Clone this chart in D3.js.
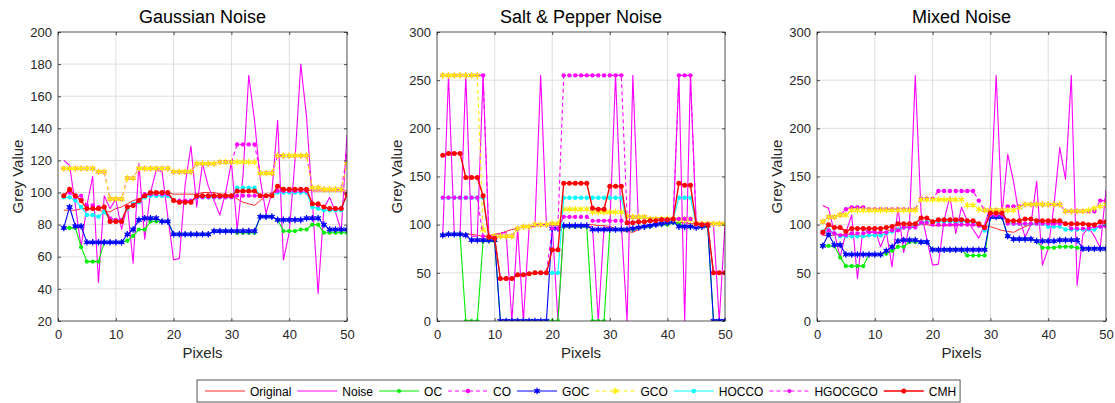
<!DOCTYPE html>
<html>
<head>
<meta charset="utf-8">
<script src="https://cdn.jsdelivr.net/npm/d3@7"></script>
<style>
  body { margin: 0; background: #fff; }
  svg { font-family: "Liberation Sans", Arial, Helvetica, sans-serif; }
</style>
</head>
<body>
<div id="chart"></div>
<script>
// ---------------- data ----------------
const pixels = d3.range(1, 51);
const xTicks = [0, 10, 20, 30, 40, 50];
const gaussTicks = [20, 40, 60, 80, 100, 120, 140, 160, 180, 200];
const greyTicks = [0, 50, 100, 150, 200, 250, 300];

const seriesNames = ['Original', 'Noise', 'OC', 'CO', 'GOC', 'GCO', 'HOCCO', 'HGOCGCO', 'CMH'];

// same original signal in every panel
const original = [89,89,89,90,90,90,89,88,88,90, 91,93,95,96,98,99,99,100,100,99,
  99,99,99,99,100,100,100,99,99,98, 96,94,93,92,95,98,100,101,101,102,
  102,102,102,101,101,101,101,101,101,101];

// Gaussian noise
const gaussNoise = [120,117,92,66,92,110,44,98,90,96, 77,92,56,118,71,100,114,113,85,58,
  59,105,129,91,118,104,95,86,100,119, 77,110,173,145,108,87,100,145,58,75,
  120,180,147,95,37,90,97,88,76,136];
const gaussOC = [78,78,78,66,57,57,57,69,69,69, 69,70,73,77,77,82,82,82,82,74,
  74,74,74,74,74,74,76,76,76,76, 75,75,75,75,85,85,85,83,76,76,
  76,77,77,80,80,75,75,75,75,75];
const gaussCO = [115,115,115,115,115,115,113,113,96,96, 96,109,109,115,115,115,115,115,115,113,
  113,113,113,118,118,118,118,119,119,119, 130,130,130,130,112,112,112,123,123,123,
  123,123,123,103,103,102,102,102,102,123];
const gaussGOC = [78,91,79,79,69,69,69,69,69,69, 69,74,77,83,84,84,84,82,82,74,
  74,74,74,74,74,74,76,76,76,76, 76,76,76,76,85,85,85,83,83,83,
  83,83,84,84,84,80,77,77,77,77];
const gaussGCO = [115,115,115,115,115,115,113,113,96,96, 96,109,109,115,115,115,115,115,115,113,
  113,113,113,118,118,118,118,119,119,119, 119,119,119,119,112,112,112,123,123,123,
  123,123,123,103,103,102,102,102,102,118];
const gaussHOCCO = [97,97,95,91,86,86,85,88,83,83, 83,90,93,94,97,98,98,98,98,95,
  94,94,94,97,97,97,97,97,97,97, 103,103,103,103,98,98,98,100,100,100,
  100,100,100,91,90,89,89,89,89,99];
const gaussHGOCGCO = [98,100,97,98,92,92,91,91,84,83, 83,91,92,95,99,99,99,99,99,95,
  95,95,95,97,97,97,97,97,97,97, 98,98,98,98,98,98,98,101,101,101,
  101,101,101,93,92,91,90,90,90,99];
const gaussCMH = [98,102,98,95,90,90,90,91,82,82, 82,91,92,95,98,100,100,100,100,95,
  94,94,94,98,98,98,98,98,98,98, 101,101,101,101,98,98,98,104,102,102,
  102,102,102,93,93,91,90,90,90,99];

// Salt & pepper noise
const spNoise = [89,255,90,90,255,88,88,255,88,89, 91,92,0,96,0,98,98,255,99,100,
  0,98,98,98,98,98,98,0,97,97, 255,100,0,255,97,99,100,100,101,101,
  102,255,0,255,101,101,100,100,0,100];
const spOC = [89,90,90,90,0,0,0,83,83,83, 0,0,0,0,0,0,0,0,0,0,
  0,98,98,98,98,98,0,0,0,95, 95,95,95,95,97,98,98,100,100,100,
  102,101,98,98,98,98,98,0,0,0];
const spCO = [255,255,255,255,255,255,255,255,88,88, 88,88,88,96,98,98,100,100,100,101,
  101,255,255,255,255,255,255,255,255,255, 255,255,109,108,108,108,106,106,106,106,
  106,255,255,255,101,101,101,101,101,101];
const spGOC = [89,90,90,90,89,84,84,84,84,84, 0,0,0,0,0,0,0,0,0,96,
  96,99,99,99,99,99,95,95,95,95, 95,95,95,96,97,98,99,100,101,102,
  103,98,98,98,97,98,99,0,0,0];
const spGCO = [255,255,255,255,255,255,255,95,88,88, 88,88,88,96,98,98,100,100,100,101,
  101,116,116,116,116,116,113,113,113,113, 113,113,109,108,108,108,106,106,106,106,
  106,105,105,105,101,101,101,101,101,101];
const spHOCCO = [128,128,128,128,128,128,128,128,87,86, 44,44,44,48,48,49,50,50,50,50,
  50,128,128,128,128,128,128,128,128,128, 128,128,102,102,103,103,104,104,105,105,
  106,128,128,128,100,100,100,50,50,50];
const spHGOCGCO = [128,128,128,128,128,128,128,88,88,86, 44,44,44,48,48,49,50,50,50,96,
  96,108,108,108,108,108,104,104,104,104, 104,104,102,102,103,103,104,104,105,105,
  106,106,106,106,100,100,100,50,50,50];
const spCMH = [172,174,174,174,149,149,149,130,87,86, 44,44,44,48,48,49,50,50,50,74,
  74,143,143,143,143,143,117,116,116,140, 140,140,102,102,103,103,104,104,105,105,
  106,143,141,141,101,100,100,50,50,50];

// Mixed noise
const mixNoise = [120,117,92,66,92,110,44,98,90,96, 77,92,56,118,71,100,255,113,85,58,
  59,105,129,91,118,104,95,86,100,119, 255,110,173,145,108,87,100,145,58,75,
  120,180,147,255,37,90,97,88,76,136];
const mixOC = [78,78,78,66,57,57,57,57,69,69, 69,70,73,77,77,82,82,82,82,74,
  74,74,74,74,74,68,68,68,68,108, 108,108,88,85,85,85,85,83,76,76,
  76,77,77,77,76,75,75,75,75,75];
const mixCO = [103,108,108,110,116,118,118,118,116,116, 116,116,116,116,116,116,116,127,127,127,
  135,135,135,135,135,135,135,125,115,115, 115,115,119,119,119,121,121,121,121,121,
  121,121,114,114,114,114,114,114,125,125];
const mixGOC = [78,90,79,79,69,69,69,69,69,69, 69,73,77,83,84,84,84,82,82,74,
  74,74,74,74,74,74,74,74,74,108, 108,108,88,85,85,85,85,83,83,83,
  83,84,84,84,84,75,75,75,75,75];
const mixGCO = [103,108,108,110,110,115,115,115,115,115, 115,115,115,115,115,115,115,126,126,126,
  126,126,126,126,126,120,120,116,115,115, 115,115,115,115,118,121,121,121,121,121,
  121,121,114,114,114,114,115,117,119,121];
const mixHOCCO = [93,95,91,88,88,88,88,88,89,89, 89,91,93,95,97,97,99,102,103,103,
  103,103,103,103,103,103,102,101,94,112, 112,112,103,101,101,101,101,101,101,98,
  98,98,95,95,95,95,95,95,98,99];
const mixHGOCGCO = [91,94,91,89,89,91,91,91,92,92, 92,92,94,94,97,97,97,102,102,100,
  100,100,100,100,100,100,100,99,96,110, 110,110,101,101,101,101,101,101,101,101,
  101,101,101,96,96,96,96,98,98,98];
const mixCMH = [92,100,97,97,93,96,96,96,96,96, 96,97,98,101,101,101,101,107,107,103,
  105,105,105,105,105,104,104,101,97,112, 112,112,104,104,104,106,106,104,104,104,
  104,104,101,101,101,101,100,100,103,103];

// ---------------- styles ----------------
// marker: 'dot' filled circle, 'star' asterisk (+ small centre dot)
const styles = {
  Original: { color: '#ff2a2a', width: 1, dash: null, marker: null, r: 0 },
  Noise:    { color: '#ff00ff', width: 1.1, dash: null, marker: null, r: 0 },
  OC:       { color: '#00f000', width: 1.1, dash: null, marker: 'dot', r: 2.1 },
  CO:       { color: '#ff00ff', width: 1.1, dash: '4,3', marker: 'dot', r: 2.2 },
  GOC:      { color: '#0000ff', width: 1.1, dash: null, marker: 'star', r: 2.0 },
  GCO:      { color: '#ffee00', width: 1.1, dash: '4,3', marker: 'star', r: 1.4 },
  HOCCO:    { color: '#00ffff', width: 1.1, dash: null, marker: 'dot', r: 2.2 },
  HGOCGCO:  { color: '#ff00ff', width: 1.1, dash: '4,3', marker: 'dot', r: 2.1 },
  CMH:      { color: '#ff0000', width: 1.4, dash: null, marker: 'dot', r: 2.5 }
};

const panels = [
  { title: 'Gaussian Noise', left: 58, right: 347, yDomain: [20, 200], yTicks: gaussTicks,
    series: [original, gaussNoise, gaussOC, gaussCO, gaussGOC, gaussGCO, gaussHOCCO, gaussHGOCGCO, gaussCMH] },
  { title: 'Salt & Pepper Noise', left: 437, right: 725, yDomain: [0, 300], yTicks: greyTicks,
    series: [original, spNoise, spOC, spCO, spGOC, spGCO, spHOCCO, spHGOCGCO, spCMH] },
  { title: 'Mixed Noise', left: 817, right: 1106, yDomain: [0, 300], yTicks: greyTicks,
    series: [original, mixNoise, mixOC, mixCO, mixGOC, mixGCO, mixHOCCO, mixHGOCGCO, mixCMH] }
];

const W = 1115, H = 403;
const plotTop = 32, plotBottom = 321;
const axisColor = '#262626';
const star = d3.symbol().type(d3.symbolAsterisk).size(30);

function addMarkers(sel, data, st, cx, cy) {
  if (st.marker === 'dot') {
    sel.selectAll('circle').data(data).join('circle')
      .attr('cx', cx).attr('cy', cy)
      .attr('r', st.r)
      .attr('fill', st.color);
  } else if (st.marker === 'star') {
    sel.selectAll('path').data(data).join('path')
      .attr('transform', (d, i) => 'translate(' + cx(d, i) + ',' + cy(d, i) + ')')
      .attr('d', star())
      .attr('fill', 'none')
      .attr('stroke', st.color)
      .attr('stroke-width', 1.2);
    sel.selectAll('circle').data(data).join('circle')
      .attr('cx', cx).attr('cy', cy)
      .attr('r', st.r)
      .attr('fill', st.color);
  }
}

const svg = d3.select('#chart').append('svg')
  .attr('width', W).attr('height', H);

panels.forEach(function (p, pi) {
  const g = svg.append('g');
  const clipId = 'clip' + pi;
  svg.append('clipPath').attr('id', clipId)
    .append('rect')
    .attr('x', p.left).attr('y', plotTop)
    .attr('width', p.right - p.left).attr('height', plotBottom - plotTop);

  const x = d3.scaleLinear().domain([0, 50]).range([p.left, p.right]);
  const y = d3.scaleLinear().domain(p.yDomain).range([plotBottom, plotTop]);

  // grid
  g.append('g').selectAll('line').data(xTicks.slice(1, -1)).join('line')
    .attr('x1', d => x(d)).attr('x2', d => x(d))
    .attr('y1', plotTop).attr('y2', plotBottom)
    .attr('stroke', '#dedede').attr('stroke-width', 1);
  g.append('g').selectAll('line').data(p.yTicks.slice(1, -1)).join('line')
    .attr('x1', p.left).attr('x2', p.right)
    .attr('y1', d => y(d)).attr('y2', d => y(d))
    .attr('stroke', '#dedede').attr('stroke-width', 1);

  // series
  const plot = g.append('g').attr('clip-path', 'url(#' + clipId + ')');
  p.series.forEach(function (values, si) {
    const st = styles[seriesNames[si]];
    const line = d3.line()
      .x((d, i) => x(pixels[i]))
      .y(d => y(d));
    plot.append('path')
      .datum(values)
      .attr('fill', 'none')
      .attr('stroke', st.color)
      .attr('stroke-width', st.width)
      .attr('stroke-dasharray', st.dash)
      .attr('stroke-linejoin', 'round')
      .attr('d', line);
    addMarkers(plot.append('g'), values, st, (d, i) => x(pixels[i]), d => y(d));
  });

  // axes (ticks inside, box on)
  g.append('g')
    .attr('transform', 'translate(0,' + plotBottom + ')')
    .call(d3.axisBottom(x).tickValues(xTicks).tickSize(-3).tickPadding(9));
  g.append('g')
    .attr('transform', 'translate(' + p.left + ',0)')
    .call(d3.axisLeft(y).tickValues(p.yTicks).tickSize(-3).tickPadding(6));
  g.append('g')
    .attr('transform', 'translate(0,' + plotTop + ')')
    .call(d3.axisTop(x).tickValues(xTicks).tickSize(-3).tickFormat(''));
  g.append('g')
    .attr('transform', 'translate(' + p.right + ',0)')
    .call(d3.axisRight(y).tickValues(p.yTicks).tickSize(-3).tickFormat(''));

  g.selectAll('.domain').remove();
  g.selectAll('.tick line').attr('stroke', axisColor).attr('stroke-width', 0.8);
  g.selectAll('.tick text')
    .attr('fill', axisColor)
    .style('font-size', '13px')
    .style('font-family', '"Liberation Sans", Arial, sans-serif');

  g.append('rect')
    .attr('x', p.left).attr('y', plotTop)
    .attr('width', p.right - p.left).attr('height', plotBottom - plotTop)
    .attr('fill', 'none').attr('stroke', axisColor).attr('stroke-width', 0.8);

  // labels
  const cx = (p.left + p.right) / 2;
  g.append('text')
    .attr('x', cx).attr('y', 23)
    .attr('text-anchor', 'middle')
    .style('font-size', '18px')
    .attr('fill', '#000')
    .text(p.title);
  g.append('text')
    .attr('x', cx).attr('y', 358)
    .attr('text-anchor', 'middle')
    .style('font-size', '15px')
    .attr('fill', axisColor)
    .text('Pixels');
  g.append('text')
    .attr('transform', 'translate(' + (p.left - 35) + ',' + ((plotTop + plotBottom) / 2) + ') rotate(-90)')
    .attr('text-anchor', 'middle')
    .style('font-size', '15px')
    .attr('fill', axisColor)
    .text('Grey Value');
});

// ---------------- legend ----------------
const legend = svg.append('g');
const legBox = legend.append('rect')
  .attr('y', 380).attr('height', 22)
  .attr('fill', '#fff').attr('stroke', '#555').attr('stroke-width', 1);
let lx = 205;
const ly = 391;
seriesNames.forEach(function (name) {
  const st = styles[name];
  legend.append('line')
    .attr('x1', lx).attr('x2', lx + 40)
    .attr('y1', ly).attr('y2', ly)
    .attr('stroke', st.color)
    .attr('stroke-width', st.width)
    .attr('stroke-dasharray', st.dash);
  addMarkers(legend.append('g'), [0], st, () => lx + 20, () => ly);
  const t = legend.append('text')
    .attr('x', lx + 45).attr('y', ly + 4.5)
    .style('font-size', '12px')
    .attr('fill', '#000')
    .text(name);
  lx += 45 + t.node().getComputedTextLength() + 6;
});
legBox.attr('x', 197).attr('width', lx - 197 - 2);
</script>
</body>
</html>
